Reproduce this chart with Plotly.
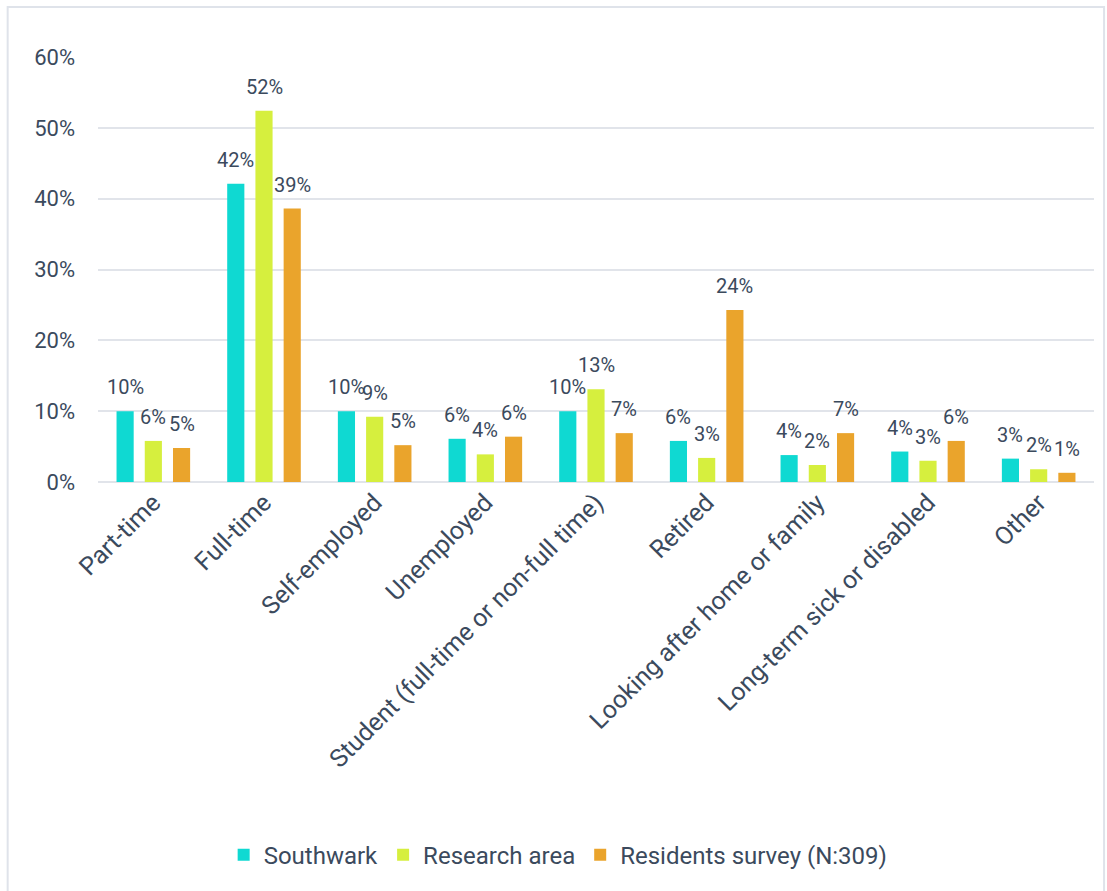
import numpy as np
import plotly.graph_objects as go

categories = [
    "Part-time", "Full-time", "Self-employed", "Unemployed",
    "Student (full-time or non-full time)", "Retired",
    "Looking after home or family", "Long-term sick or disabled", "Other",
]
southwark = [10.0, 42.1, 10.0, 6.1, 10.0, 5.8, 3.8, 4.3, 3.3]
research_area = [5.8, 52.4, 9.2, 3.9, 13.1, 3.4, 2.4, 3.0, 1.8]
residents_survey = [4.8, 38.6, 5.2, 6.4, 6.9, 24.3, 6.9, 5.8, 1.3]

series_names = ["Southwark", "Research area", "Residents survey (N:309)"]
series_values = [southwark, research_area, residents_survey]
series_colors = ["#0fd9d2", "#d6ef3e", "#eaa42c"]

y_ticks = [0, 10, 20, 30, 40, 50, 60]
y_tick_labels = ["0%", "10%", "20%", "30%", "40%", "50%", "60%"]

FONT = "Roboto"
TEXT_COLOR = "#3b4a5d"

x_idx = np.arange(len(categories))
slot = 0.255      # spacing between bar centres within a group
bar_w = 0.155     # individual bar width

fig = go.Figure()
annotations = []
for k, (name, vals, col) in enumerate(zip(series_names, series_values, series_colors)):
    centre_shift = (k - 1) * slot
    fig.add_trace(go.Bar(
        x=x_idx + centre_shift,
        y=vals,
        width=bar_w,
        name=name,
        marker=dict(color=col, line=dict(width=0)),
        hoverinfo="skip",
    ))
    for xi, v in zip(x_idx + centre_shift, vals):
        annotations.append(dict(
            x=xi, y=v, xref="x", yref="y",
            text=f"{int(v + 0.5):d}%", showarrow=False,
            yanchor="bottom", xanchor="center", yshift=10,
            font=dict(family=FONT, size=20, color=TEXT_COLOR),
        ))

# light frame around the whole chart
frame = [dict(
    type="rect", xref="paper", yref="paper",
    x0=-0.0907, x1=1.0101, y0=-1.2, y1=1.1176,
    line=dict(color="#dfe3ea", width=2), fillcolor="rgba(0,0,0,0)", layer="below",
)]

fig.update_layout(
    width=1107, height=891,
    margin=dict(l=98, r=13, t=57, b=409),
    paper_bgcolor="white", plot_bgcolor="white",
    font=dict(family=FONT, size=20, color=TEXT_COLOR),
    barmode="overlay",
    showlegend=True,
    legend=dict(
        orientation="h", x=0.462, xanchor="center", y=-0.878, yanchor="middle",
        font=dict(family=FONT, size=24, color=TEXT_COLOR),
        itemwidth=30, traceorder="normal",
    ),
    annotations=annotations,
    shapes=frame,
    xaxis=dict(
        range=[-0.5, len(categories) - 0.5],
        tickvals=list(x_idx), ticktext=categories,
        tickangle=-45, showgrid=False, zeroline=False,
        showline=False, ticks="",
        tickfont=dict(family=FONT, size=25, color=TEXT_COLOR),
    ),
    yaxis=dict(
        range=[0, 60], tickvals=y_ticks, ticktext=y_tick_labels,
        showgrid=True, gridcolor="#e1e4ea", gridwidth=2,
        zeroline=True, zerolinecolor="#e1e4ea", zerolinewidth=2,
        showline=False, ticks="", ticklabelstandoff=22,
        tickfont=dict(family=FONT, size=22, color=TEXT_COLOR),
    ),
)

fig.write_html("out.html")
